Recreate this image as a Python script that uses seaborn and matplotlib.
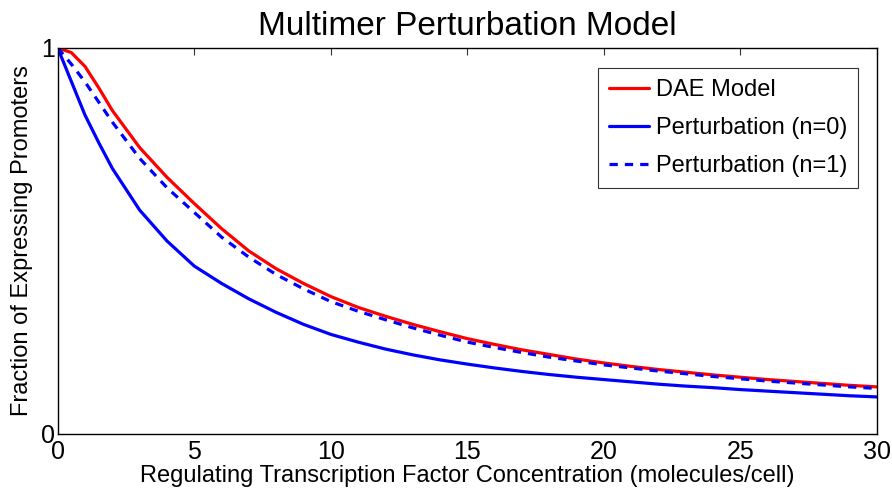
import numpy as np
import pandas as pd
import matplotlib
matplotlib.use('Agg')
import matplotlib.pyplot as plt
import seaborn as sns

# values
conc = [0, 0.5, 1, 1.5, 2, 3, 4, 5, 6, 7, 8, 9, 10, 11, 12, 13, 14, 15, 16, 17, 18, 19, 20,
        21, 22, 23, 24, 25, 26, 27, 28, 29, 30]
dae_model = [1.0, 0.988, 0.952, 0.897, 0.838, 0.742, 0.665, 0.597, 0.532, 0.474, 0.428, 0.39, 0.356,
             0.328, 0.305, 0.284, 0.265, 0.247, 0.232, 0.218, 0.206, 0.194, 0.184,
             0.175, 0.167, 0.16, 0.153, 0.147, 0.141, 0.136, 0.131, 0.126, 0.122]
pert_n0 = [1.0, 0.913, 0.826, 0.755, 0.688, 0.58, 0.5, 0.435, 0.39, 0.35, 0.315, 0.284, 0.258,
           0.238, 0.22, 0.205, 0.192, 0.181, 0.171, 0.162, 0.154, 0.147, 0.141,
           0.135, 0.129, 0.124, 0.12, 0.115, 0.111, 0.107, 0.103, 0.099, 0.096]
pert_n1 = [1.0, 0.958, 0.912, 0.86, 0.808, 0.714, 0.638, 0.574, 0.51, 0.458, 0.413, 0.376, 0.343,
           0.318, 0.296, 0.275, 0.256, 0.238, 0.224, 0.211, 0.199, 0.189, 0.179,
           0.171, 0.163, 0.156, 0.149, 0.143, 0.137, 0.132, 0.127, 0.122, 0.118]

df = pd.DataFrame({'x': conc, 'dae': dae_model, 'n0': pert_n0, 'n1': pert_n1})

sns.set_style('white')
plt.rcParams['font.family'] = ['Liberation Sans', 'DejaVu Sans']
plt.rcParams['text.color'] = 'black'
plt.rcParams['axes.labelcolor'] = 'black'
plt.rcParams['xtick.color'] = 'black'
plt.rcParams['ytick.color'] = 'black'

fig = plt.figure(figsize=(8.92, 4.97), dpi=100)
ax = fig.add_axes([0.0647, 0.1268, 0.9185, 0.7767])

sns.lineplot(data=df, x='x', y='dae', color='#ff0000', lw=2.3, label='DAE Model', ax=ax)
sns.lineplot(data=df, x='x', y='n0', color='#0000ff', lw=2.3, label='Perturbation (n=0)', ax=ax)
sns.lineplot(data=df, x='x', y='n1', color='#0000ff', lw=2.3, label='Perturbation (n=1)', ax=ax)
ax.lines[2].set_dashes([2.6, 2.2])

ax.set_xlim(0, 30)
ax.set_ylim(0, 1)
ax.set_xticks([0, 5, 10, 15, 20, 25, 30])
ax.set_yticks([0, 1])
ax.tick_params(direction='in', top=True, right=True, length=5, width=0.8,
               labelsize=18, color='#333333')
ax.tick_params(axis='x', pad=4)
ax.tick_params(axis='y', pad=2)
for s in ax.spines.values():
    s.set_color('black')
    s.set_linewidth(1.0)

ax.set_title('Multimer Perturbation Model', fontsize=24, pad=9)
ax.set_xlabel('Regulating Transcription Factor Concentration (molecules/cell)', fontsize=17, labelpad=1)
ax.set_ylabel('Fraction of Expressing Promoters', fontsize=17, labelpad=6)

leg = ax.legend(loc='upper right', bbox_to_anchor=(0.9765, 0.947), fontsize=17,
                frameon=True, fancybox=False, edgecolor='black', handlelength=1.7,
                handletextpad=0.3, borderpad=0.45, labelspacing=0.68, borderaxespad=0)
leg.get_frame().set_linewidth(0.8)

plt.savefig('out.png', dpi=100)
